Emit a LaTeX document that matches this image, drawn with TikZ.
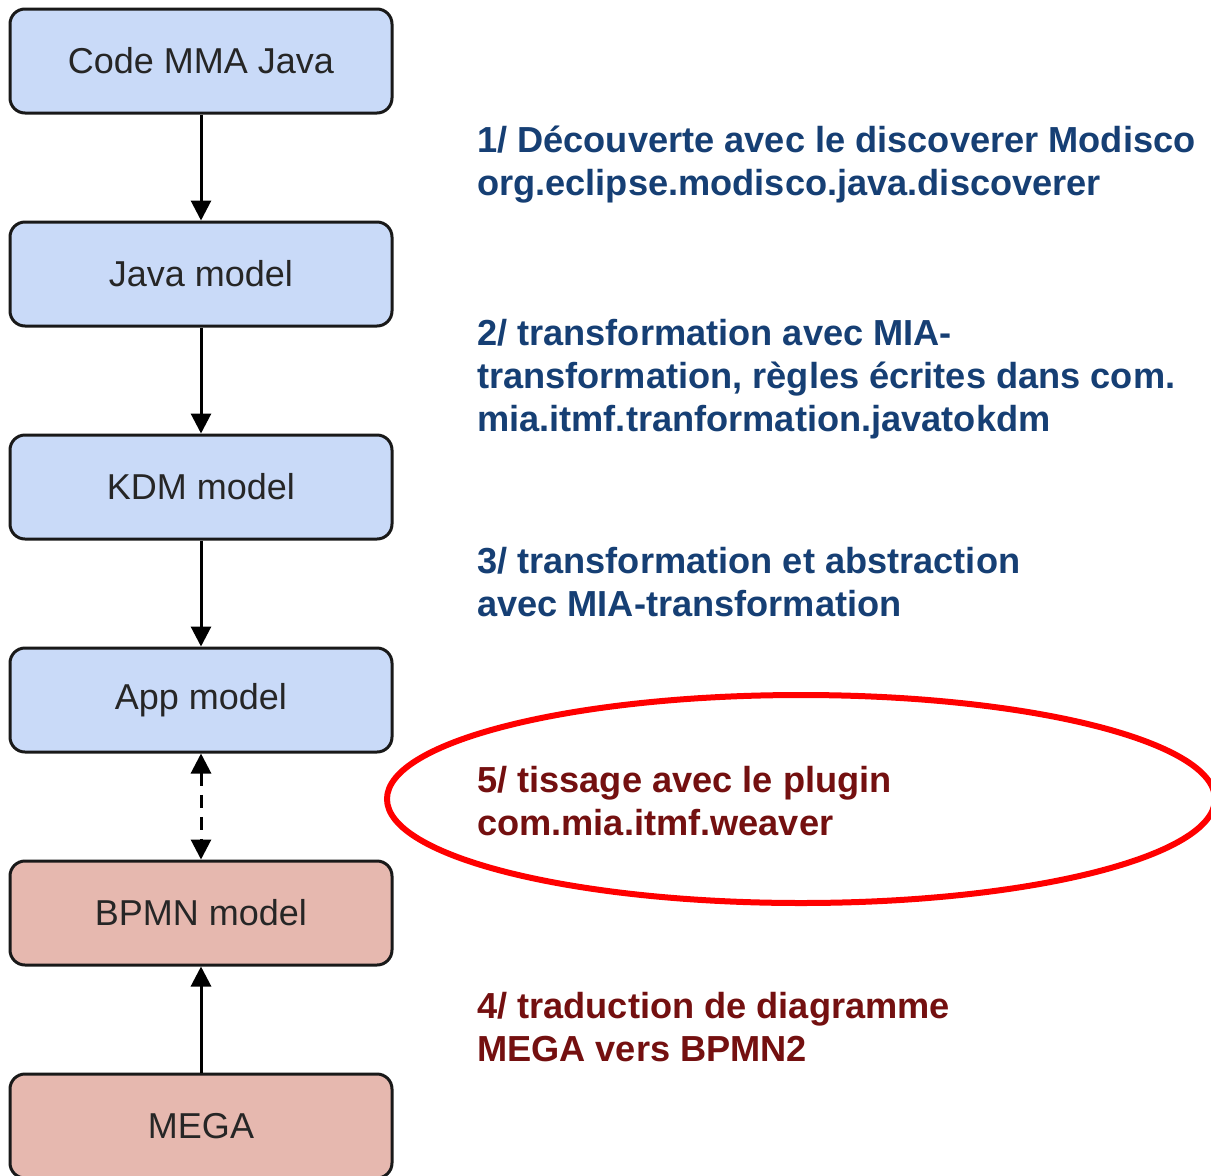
\documentclass[tikz,border=0pt]{standalone}
\usepackage{fontspec}
\setmainfont{Liberation Sans}
\usetikzlibrary{arrows.meta}
\definecolor{boxblue}{HTML}{C9DAF8}
\definecolor{boxred}{HTML}{E6B8AF}
\definecolor{noteblue}{HTML}{163F74}
\definecolor{notered}{HTML}{741010}
\definecolor{ringred}{HTML}{FF0000}
\tikzset{
  model/.style={draw=black!90, line width=3pt, rounded corners=15pt,
    minimum width=382pt, minimum height=104pt, inner sep=0pt,
    font=\fontsize{36}{43}\selectfont, text=black!85},
  bluebox/.style={model, fill=boxblue},
  redbox/.style={model, fill=boxred},
  flow/.style={line width=3pt, -{Triangle[width=20pt,length=20pt]}},
  twoway/.style={line width=3pt, dash pattern=on 13pt off 9pt,
    {Triangle[width=20pt,length=20pt]}-{Triangle[width=20pt,length=20pt]}},
  note/.style={anchor=north west, align=left, inner sep=0pt,
    font=\bfseries\fontsize{36.2}{43}\selectfont},
}
\begin{document}
\begin{tikzpicture}[x=1pt,y=-1pt]
\useasboundingbox (0,0) rectangle (1211,1176);
\fill[white] (0,0) rectangle (1211,1176);

% model chain
\node[bluebox] (code) at (201,61)   {Code MMA Java};
\node[bluebox] (java) at (201,274)  {Java model};
\node[bluebox] (kdm)  at (201,487)  {KDM model};
\node[bluebox] (app)  at (201,700)  {App model};
\node[redbox]  (bpmn) at (201,913)  {BPMN model};
\node[redbox]  (mega) at (201,1126) {MEGA};

\draw[flow] (code.south) -- (java.north);
\draw[flow] (java.south) -- (kdm.north);
\draw[flow] (kdm.south) -- (app.north);
\draw[twoway] (app.south) -- (bpmn.north);
\draw[flow] (mega.north) -- (bpmn.south);

% step descriptions
\node[note, text=noteblue] (n1) at (477,126)
  {1/ Découverte avec le discoverer Modisco\\org.eclipse.modisco.java.discoverer};
\node[note, text=noteblue] (n2) at (477,319)
  {2/ transformation avec MIA-\\transformation, règles écrites dans com.\\mia.itmf.tranformation.javatokdm};
\node[note, text=noteblue] (n3) at (477,547)
  {3/ transformation et abstraction\\avec MIA-transformation};
\node[note, text=notered] (n5) at (477,766)
  {5/ tissage avec le plugin\\com.mia.itmf.weaver};
\node[note, text=notered] (n4) at (477,992)
  {4/ traduction de diagramme\\MEGA vers BPMN2};

% highlight ring
\draw[ringred, line width=6pt] (801,799) ellipse [x radius=414pt, y radius=104pt];
\end{tikzpicture}
\end{document}
